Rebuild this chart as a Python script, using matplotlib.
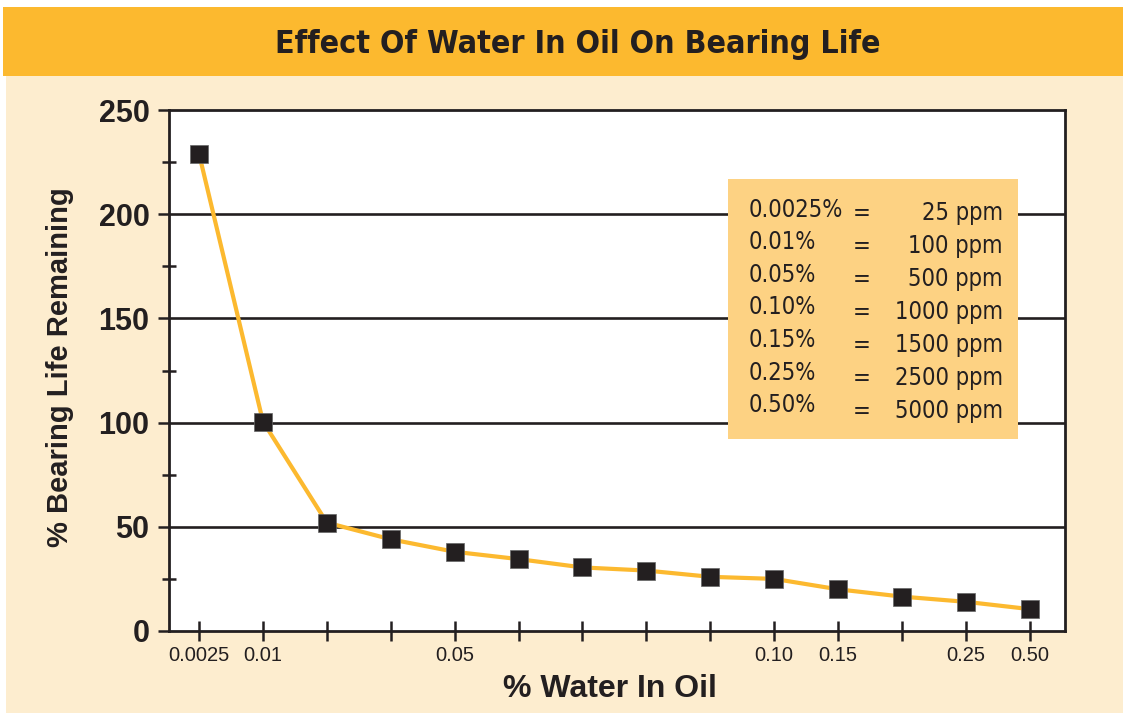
import numpy as np
import matplotlib.pyplot as plt
from matplotlib.patches import Rectangle

# data
x_labels = ['0.0025', '0.01', '', '', '0.05', '', '', '', '', '0.10', '0.15', '', '0.25', '0.50']
life = [229, 100.5, 52, 44, 38, 34.5, 30.5, 29, 26, 25, 20, 16.5, 14, 10.5]
pct_labels = ['0.0025%', '0.01%', '0.05%', '0.10%', '0.15%', '0.25%', '0.50%']
ppm_labels = ['25 ppm', '100 ppm', '500 ppm', '1000 ppm', '1500 ppm', '2500 ppm', '5000 ppm']

INK = '#231F20'
ORANGE = '#FCB92F'
CREAM = '#FDEDCF'
BOXCOL = '#FDD283'
plt.rcParams['font.family'] = ['Liberation Sans', 'DejaVu Sans']
COND = dict(family='DejaVu Sans', fontstretch='condensed')

W, H = 1123, 713
fig = plt.figure(figsize=(W/100, H/100), dpi=100, facecolor='white')

# background panels
fig.patches.append(Rectangle((6/W, 0), 1, (H-76)/H, transform=fig.transFigure,
                             facecolor=CREAM, edgecolor='none', zorder=-5))
fig.patches.append(Rectangle((3/W, (H-76)/H), 1, 69/H, transform=fig.transFigure,
                             facecolor=ORANGE, edgecolor='none', zorder=-5))
fig.text(578/W, 1-44/H, 'Effect Of Water In Oil On Bearing Life', ha='center', va='center',
         fontsize=23, fontweight='bold', color=INK, **COND)

ax = fig.add_axes([169/W, (H-631)/H, (1065-169)/W, (631-110)/H])
ax.set_facecolor('white')
x = np.arange(len(life))
ax.plot(x, life, color=ORANGE, lw=3, zorder=3)
ax.plot(x, life, ls='none', marker='s', ms=13, color=INK, mec='#666666', mew=0.5, zorder=4)

ax.set_xlim(-0.47, 13.55)
ax.set_ylim(0, 250)
ax.set_yticks(np.arange(0, 251, 50))
ax.set_yticks(np.arange(25, 250, 50), minor=True)
ax.set_xticks(x)
ax.set_xticklabels(x_labels)
for v in [50, 100, 150, 200]:
    ax.axhline(v, color=INK, lw=1.9, zorder=1)

for s in ax.spines.values():
    s.set_linewidth(2)
    s.set_color(INK)
ax.tick_params(axis='y', which='major', direction='out', length=8, width=1.8, color=INK,
               labelsize=22, labelcolor=INK, pad=6)
for t in ax.get_yticklabels():
    t.set_fontweight('bold')
ax.tick_params(axis='y', which='minor', direction='inout', length=10, width=1.8, color=INK)
ax.tick_params(axis='x', direction='inout', length=14, width=1.8, color=INK,
               labelsize=14.5, labelcolor=INK, pad=4)

ax.set_ylabel('% Bearing Life Remaining', fontsize=21, fontweight='bold', color=INK, va='center')
ax.set_xlabel('% Water In Oil', fontsize=23, fontweight='bold', color=INK, va='center')
ax.yaxis.set_label_coords((60-169)/896, (631-367)/521)
ax.xaxis.set_label_coords((610-169)/896, (631-689)/521)

# conversion box
fig.patches.append(Rectangle((728/W, 1-439/H), 290/W, 260/H, transform=fig.transFigure,
                             facecolor=BOXCOL, edgecolor='none', zorder=5))
for i, (p, q) in enumerate(zip(pct_labels, ppm_labels)):
    yr = 1 - (213 + i*33)/H
    yl = 1 - (210 + i*32.5)/H
    fig.text(749/W, yl, p, ha='left', va='center', fontsize=17, color=INK, zorder=6, **COND)
    fig.text(862/W, yr, '=', ha='center', va='center', fontsize=17, color=INK, zorder=6, **COND)
    fig.text(1003/W, yr, q, ha='right', va='center', fontsize=17, color=INK, zorder=6, **COND)

fig.savefig('out.png', dpi=100)
